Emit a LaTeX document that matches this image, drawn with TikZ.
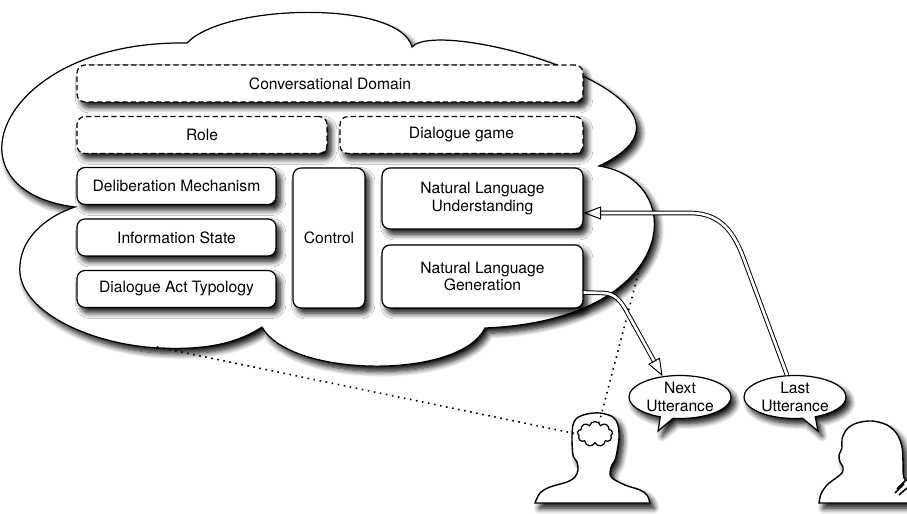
\documentclass[tikz,border=0pt]{standalone}
\usepackage{fontspec}
\setmainfont{TeX Gyre Heros}
\usetikzlibrary{shapes.symbols}
\usetikzlibrary{shapes.callouts}
\usetikzlibrary{shadows.blur}
\usetikzlibrary{arrows.meta}
\usetikzlibrary{calc}
\tikzstyle{shd}=[blur shadow={shadow xshift=2.4pt, shadow yshift=-3pt, shadow blur steps=8, shadow blur radius=3.2pt, shadow opacity=95}]
\tikzstyle{blk}=[draw, fill=white, rounded corners=4.5pt, line width=0.7pt, minimum height=0.74cm, inner sep=2pt, align=center, shd]
\tikzstyle{dbk}=[blk, dash pattern=on 3pt off 1.8pt]
\tikzstyle{utt}=[ellipse callout, draw, fill=white, line width=0.7pt, minimum width=2.04cm, minimum height=0.86cm, inner sep=0pt, align=center, shd]
\tikzstyle{conn}=[double, line width=0.55pt, double distance=1.5pt, -{Triangle[open, length=10pt, width=7.5pt]}]
\tikzstyle{dts}=[line width=0.9pt, dash pattern=on 0.9pt off 2.6pt]
\tikzstyle{body}=[draw, fill=white, line width=0.8pt, shd]

\begin{document}
\begin{tikzpicture}[x=0.02cm, y=-0.02cm, font=\fontsize{8.9}{10}\selectfont]
    \useasboundingbox (0,0) rectangle (907,514);

    % the thought cloud
    \draw [line width=0.7pt, fill=white, shd] (187,43)
        .. controls (225,3) and (400,0) .. (412,47)
        .. controls (440,15) and (740,100) .. (599,166)
        .. controls (690,180) and (680,320) .. (485,328)
        .. controls (460,380) and (290,378) .. (262,327)
        .. controls (235,345) and (200,350) .. (160,348)
        .. controls (90,345) and (15,310) .. (20,265)
        .. controls (22,235) and (50,215) .. (75,207)
        .. controls (-60,190) and (0,40) .. cycle;
    \coordinate (c1) at (157,347);
    \coordinate (c2) at (640,267);

    \node [dbk, minimum width=10.12cm] (CD) at (330,83.5)  {Conversational Domain};
    \node [dbk, minimum width=5cm]     (RO) at (202,135)   {Role};
    \node [dbk, minimum width=4.86cm]  (DG) at (461.5,135) {Dialogue game};
    \node [blk, minimum width=3.98cm]  (DM) at (176.5,186) {Deliberation Mechanism};
    \node [blk, minimum width=3.98cm]  (IS) at (176.5,237.5) {Information State};
    \node [blk, minimum width=3.98cm]  (DA) at (176.5,289) {Dialogue Act Typology};
    \node [blk, minimum width=1.44cm, minimum height=2.8cm] (CT) at (329,238) {Control};
    \node [blk, minimum width=4.02cm, minimum height=1.22cm] (NU) at (482.5,198.5) {Natural Language\\Understanding};
    \node [blk, minimum width=4.02cm, minimum height=1.26cm] (NG) at (482.5,276.5) {Natural Language\\Generation};

    % speaker and hearer
    \draw [body] plot [smooth, tension=0.55] coordinates {(650,503) (647,495) (640,490) (625,485) (612,478) (610,472) (612,465) (615,460) (617,452) (619,438) (618,425) (613,417) (600,413) (587,414) (577,418) (573,425) (572,438) (573,455) (577,462) (578,470) (575,477) (567,482) (550,487) (540,493) (535,503)} -- cycle;
    \draw [body] plot [smooth, tension=0.55] coordinates {(915,503) (912,484) (904,478) (903,462) (902,447) (897,434) (887,425) (872,421) (857,423) (847,429) (842,439) (842,448) (839,455) (840,462) (843,467) (842,473) (836,478) (827,485) (821,494) (819,503)} -- cycle;
    \draw [line width=0.9pt] (895,493) -- (904,484) (897,489) -- (906,480) (899,495) -- (907,488);
    \node [cloud, cloud puffs=9, draw, fill=white, line width=0.7pt, minimum width=0.7cm, minimum height=0.5cm, inner sep=0pt] (th) at (595,434) {};

    \draw [dts] (c1) -- (th.west);
    \draw [dts] (c2) -- (th.70);

    \node [utt, callout absolute pointer={(658,431)}] (NX) at (680,397) {Next\\Utterance};
    \node [utt, callout absolute pointer={(818,431)}] (LS) at (795,397) {Last\\Utterance};

    \draw [conn] ($(NG.east)+(0,16)$) -- (603,293) .. controls (615,293) and (622,302) .. (628,314) -- (NX.130);
    \draw [conn] (LS.110) -- (745,262) .. controls (735,234) and (722,213) .. (690,213) -- ($(NU.east)+(0,14.5)$);

\end{tikzpicture}
\end{document}
